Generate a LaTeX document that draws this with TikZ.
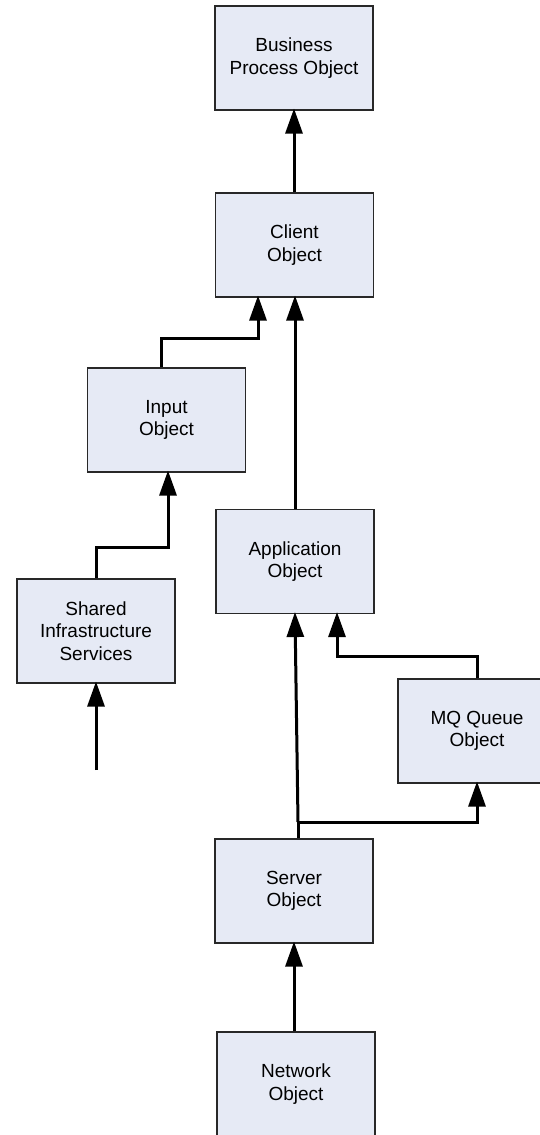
\documentclass[tikz,border=0pt]{standalone}
\usepackage{fontspec}
\setmainfont{Liberation Sans}
\usetikzlibrary{arrows.meta}
\definecolor{boxfill}{RGB}{230,234,245}
\definecolor{boxline}{RGB}{40,40,40}
\tikzset{
  objbox/.style={draw=boxline, line width=1.1pt, fill=boxfill, rectangle,
    minimum width=158pt, minimum height=104pt, inner sep=0pt,
    align=center, font=\fontsize{19}{22.5}\selectfont},
  link/.style={line width=3pt},
  arr/.style={link, -{Triangle[width=17pt,length=25pt]}, shorten >=-2pt}
}
\begin{document}
\begin{tikzpicture}[x=1pt,y=-1pt]
\useasboundingbox (0,0) rectangle (539,1135);

% object boxes
\node[objbox] (bpo)     at (294,58)    {Business\\Process Object};
\node[objbox] (client)  at (294.5,245) {Client\\Object};
\node[objbox] (input)   at (166.5,420) {Input\\Object};
\node[objbox] (app)     at (295,561.5) {Application\\Object};
\node[objbox] (shared)  at (96,631)    {Shared\\Infrastructure\\Services};
\node[objbox] (mq)      at (477,731)   {MQ Queue\\Object};
\node[objbox] (server)  at (294,891)   {Server\\Object};
\node[objbox] (network) at (296,1084)  {Network\\Object};

% free ends and branch points
\coordinate (feed) at (96,770);
\coordinate (split) at (298,822);

% connectors
\draw[arr] (bpo.south |- client.north) -- (bpo.south);
\draw[arr] ([xshift=-5.5pt]input.north) -- ++(0,-29) -| ([xshift=-36.5pt]client.south);
\draw[arr] (app.north) -- (app.north |- client.south);
\draw[arr] (shared.north) -- ++(0,-31) -| ([xshift=1.5pt]input.south);
\draw[arr] (feed) -- (shared.south);
\draw[link] ([xshift=4pt]server.north) -- (split);
\draw[arr] (split) -- (app.south);
\draw[arr] (split) -| (mq.south);
\draw[arr] (mq.north) -- ++(0,-22) -| ([xshift=42pt]app.south);
\draw[arr] (server.south |- network.north) -- (server.south);
\end{tikzpicture}
\end{document}
